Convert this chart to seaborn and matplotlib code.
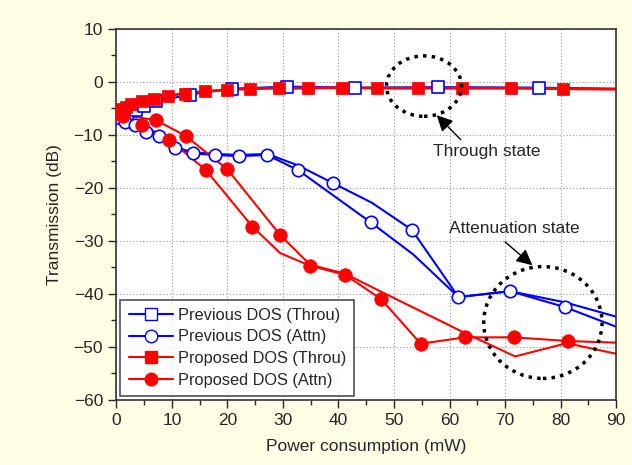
import matplotlib
matplotlib.use("Agg")
import matplotlib.pyplot as plt
import seaborn as sns
from matplotlib.lines import Line2D
from matplotlib.patches import Ellipse
from matplotlib.ticker import MultipleLocator

# Previous DOS, through state
prev_thru_x = [0, 1, 2, 3.5, 5, 7.2, 13.2, 20.8, 30.7, 43, 58, 76.1, 90]
prev_thru_y = [-7.3, -6.8, -6.0, -5.3, -4.5, -3.7, -2.4, -1.3, -0.9, -1.1, -1.0, -1.1, -1.3]
prev_thru_mx = [1, 2, 3.5, 5, 7.2, 13.2, 20.8, 30.7, 43, 58, 76.1]
prev_thru_my = [-6.8, -6.0, -5.3, -4.5, -3.7, -2.4, -1.3, -0.9, -1.1, -1.0, -1.1]

# Previous DOS, attenuation state (two curves)
prev_attn_x1 = [0, 1.5, 3.3, 5.3, 7.7, 10.5, 13.8, 17.7, 22.1, 27.2, 32.8, 45.8, 53.5, 61.6, 70.9, 80.8, 90]
prev_attn_y1 = [-7.2, -7.5, -8.1, -9.4, -10.3, -12.5, -13.5, -13.8, -14.0, -13.8, -16.7, -26.5, -32.6, -40.6, -39.5, -42.5, -46.2]
prev_attn_x2 = [0, 1.5, 3.3, 5.3, 7.7, 10.5, 13.8, 17.7, 22.1, 27.2, 32.8, 39, 46, 53.2, 61.6, 70.9, 80.8, 90]
prev_attn_y2 = [-7.0, -7.3, -7.9, -9.2, -10.1, -12.3, -13.3, -13.6, -13.8, -13.6, -15.8, -19.1, -22.8, -27.9, -40.6, -39.5, -41.6, -44.3]
prev_attn_mx = [1.5, 3.3, 5.3, 7.7, 10.5, 13.8, 17.7, 22.1, 27.2, 32.8, 39, 45.8, 53.2, 61.6, 70.9, 80.8]
prev_attn_my = [-7.5, -8.1, -9.4, -10.3, -12.5, -13.5, -13.8, -14.0, -13.8, -16.7, -19.1, -26.5, -27.9, -40.6, -39.5, -42.5]

# Proposed DOS, through state
prop_thru_x = [0, 0.3, 1.0, 1.8, 2.7, 4.7, 6.8, 9.3, 12.3, 15.9, 19.9, 24, 29.3, 34.5, 40.6, 47, 54.3, 62.2, 71.1, 80.4, 90]
prop_thru_y = [-6.2, -6.0, -5.2, -4.7, -4.2, -3.6, -3.2, -2.6, -2.2, -1.8, -1.5, -1.3, -1.2, -1.2, -1.1, -1.2, -1.2, -1.2, -1.2, -1.3, -1.4]
prop_thru_mx = [0.3, 1.0, 1.8, 2.7, 4.7, 6.8, 9.3, 12.3, 15.9, 19.9, 24, 29.3, 34.5, 40.6, 47, 54.3, 62.2, 71.1, 80.4]
prop_thru_my = [-6.0, -5.2, -4.7, -4.2, -3.6, -3.2, -2.6, -2.2, -1.8, -1.5, -1.3, -1.2, -1.2, -1.1, -1.2, -1.2, -1.2, -1.2, -1.3]

# Proposed DOS, attenuation state (two curves)
prop_attn_x1 = [0, 1.2, 4.7, 9.5, 16.1, 24.5, 29.5, 34.9, 41.2, 47.7, 54.8, 62.8, 71.6, 81.4, 90]
prop_attn_y1 = [-6.0, -6.5, -8.1, -10.9, -16.6, -27.3, -32.3, -34.7, -36.4, -41.0, -49.4, -48.2, -48.2, -48.9, -49.2]
prop_attn_x2 = [0, 1.2, 7.1, 12.5, 20, 29.5, 34.9, 41.2, 47.7, 62.8, 71.8, 81.1, 90]
prop_attn_y2 = [-6.0, -6.3, -7.2, -10.2, -16.5, -28.9, -34.5, -36.2, -39.6, -47.4, -51.8, -49.3, -51.3]
prop_attn_mx = [1.2, 4.7, 7.1, 9.5, 12.5, 16.1, 20, 24.5, 29.5, 34.9, 41.2, 47.7, 54.8, 62.8, 71.6, 81.4]
prop_attn_my = [-6.5, -8.1, -7.2, -10.9, -10.2, -16.6, -16.5, -27.3, -28.9, -34.7, -36.4, -41.0, -49.4, -48.2, -48.2, -48.9]

labels = ["Previous DOS (Throu)", "Previous DOS (Attn)", "Proposed DOS (Throu)", "Proposed DOS (Attn)"]

sns.set_style("ticks")
plt.rcParams["font.family"] = ["Liberation Sans", "DejaVu Sans"]

blue = "#0000FF"
red = "#FF0000"

fig = plt.figure(figsize=(6.32, 4.65), dpi=100, facecolor="#FFFFE6")
ax = fig.add_axes([0.184, 0.14, 0.791, 0.798])
ax.set_facecolor("white")

lw = 1.5
sns.lineplot(x=prev_thru_x, y=prev_thru_y, color=blue, lw=lw, sort=False, ax=ax)
sns.lineplot(x=prev_attn_x1, y=prev_attn_y1, color=blue, lw=lw, sort=False, ax=ax)
sns.lineplot(x=prev_attn_x2, y=prev_attn_y2, color=blue, lw=lw, sort=False, ax=ax)
sns.lineplot(x=prop_thru_x, y=prop_thru_y, color=red, lw=lw + 0.5, sort=False, ax=ax)
sns.lineplot(x=prop_attn_x1, y=prop_attn_y1, color=red, lw=lw, sort=False, ax=ax)
sns.lineplot(x=prop_attn_x2, y=prop_attn_y2, color=red, lw=lw, sort=False, ax=ax)

sns.scatterplot(x=prev_thru_mx, y=prev_thru_my, marker="s", s=65, facecolor="white",
                edgecolor=blue, linewidth=1.2, ax=ax, zorder=3)
sns.scatterplot(x=prev_attn_mx, y=prev_attn_my, marker="o", s=80, facecolor="white",
                edgecolor=blue, linewidth=1.2, ax=ax, zorder=3)
sns.scatterplot(x=prop_thru_mx, y=prop_thru_my, marker="s", s=85, color=red,
                edgecolor=red, linewidth=0.5, ax=ax, zorder=4)
sns.scatterplot(x=prop_attn_mx, y=prop_attn_my, marker="o", s=95, color=red,
                edgecolor=red, linewidth=0.5, ax=ax, zorder=4)

ax.set_xlim(0, 90)
ax.set_ylim(-60, 10)
ax.xaxis.set_major_locator(MultipleLocator(10))
ax.xaxis.set_minor_locator(MultipleLocator(5))
ax.yaxis.set_major_locator(MultipleLocator(10))
ax.yaxis.set_minor_locator(MultipleLocator(5))
ax.tick_params(which="major", length=6, width=1, labelsize=12.5, direction="out")
ax.tick_params(which="minor", length=3.5, width=1, direction="out")
ax.grid(True, which="major", ls=(0, (1, 2)), color="#999999", lw=0.8)
for s in ax.spines.values():
    s.set_color("#333333")
    s.set_linewidth(1.2)

ax.set_xlabel("Power consumption (mW)", fontsize=12.5, labelpad=8)
ax.set_ylabel("Transmission (dB)", fontsize=12.5, labelpad=8)

# annotations
arrow = dict(arrowstyle="-|>", color="k", lw=1, mutation_scale=24, shrinkA=0, shrinkB=0)
ax.add_patch(Ellipse((55.4, -0.8), 13.5, 11.4, fill=False, ls=(0, (1, 1.5)), lw=2.5, color="k", zorder=5))
ax.annotate("", xy=(57.7, -6.3), xytext=(62.0, -10.9), arrowprops=arrow, zorder=6)
ax.text(66.7, -13.2, "Through state", fontsize=12.5, ha="center", va="center")
ax.add_patch(Ellipse((76.8, -45.4), 21.3, 21.1, fill=False, ls=(0, (1, 1.5)), lw=2.5, color="k", zorder=5))
ax.annotate("", xy=(74.9, -34.6), xytext=(70.0, -30.2), arrowprops=arrow, zorder=6)
ax.text(71.6, -27.6, "Attenuation state", fontsize=12.5, ha="center", va="center")

handles = [
    Line2D([], [], color=blue, lw=lw, marker="s", ms=8, mfc="white", mec=blue),
    Line2D([], [], color=blue, lw=lw, marker="o", ms=9, mfc="white", mec=blue),
    Line2D([], [], color=red, lw=lw, marker="s", ms=8, mfc=red, mec=red),
    Line2D([], [], color=red, lw=lw, marker="o", ms=9, mfc=red, mec=red),
]
leg = ax.legend(handles, labels, loc="lower left", fontsize=11.8, frameon=True, fancybox=False,
                edgecolor="#222222", handlelength=2.7, borderaxespad=0.25, labelspacing=0.4,
                handletextpad=0.3, borderpad=0.5)
leg.get_frame().set_linewidth(1.2)
leg.set_zorder(6)

fig.savefig("out.png", dpi=100, facecolor=fig.get_facecolor())
